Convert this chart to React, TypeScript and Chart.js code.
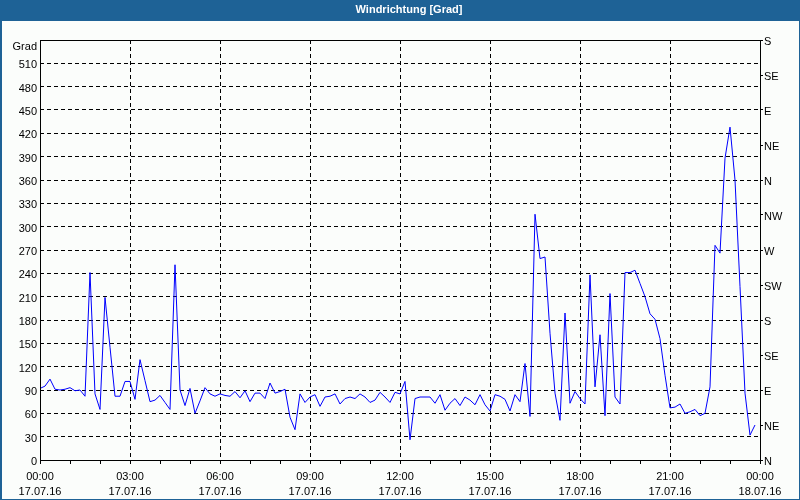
import React, { useEffect, useRef } from "react";
import { Chart, registerables } from "chart.js";

Chart.register(...registerables);

const TITLE = "Windrichtung [Grad]";
const Y_UNIT = "Grad";
const SAMPLE_MINUTES = 10;

// wind direction in degrees, one value every 10 minutes from 17.07.16 00:00
const windDirection = [
  92, 95, 104, 91, 90, 91, 93, 89, 90, 82,
  241, 85, 65, 209, 145, 82, 82, 101, 101, 78,
  129, 102, 75, 77, 83, 74, 65, 251, 90, 70,
  92, 60, 76, 93, 85, 82, 85, 83, 82, 88,
  80, 89, 75, 86, 86, 79, 99, 86, 88, 91,
  55, 39, 85, 74, 81, 84, 69, 81, 82, 85,
  72, 79, 81, 79, 85, 81, 74, 77, 87, 81,
  74, 87, 85, 101, 26, 79, 81, 81, 81, 73,
  84, 64, 73, 79, 70, 81, 77, 71, 84, 71,
  63, 84, 82, 78, 63, 84, 75, 124, 56, 316,
  259, 261, 163, 86, 51, 189, 73, 88, 79, 72,
  238, 94, 161, 57, 214, 81, 72, 241, 241, 244,
  227, 210, 188, 181, 156, 109, 67, 68, 72, 60,
  62, 65, 57, 60, 94, 276, 266, 388, 428, 360,
  223, 86, 32, 45,
];

const hourLabels = ["00:00", "03:00", "06:00", "09:00", "12:00", "15:00", "18:00", "21:00", "00:00"];
const dateLabels = ["17.07.16", "17.07.16", "17.07.16", "17.07.16", "17.07.16", "17.07.16", "17.07.16", "17.07.16", "18.07.16"];
const compassLabels = ["N", "NE", "E", "SE", "S", "SW", "W", "NW", "N", "NE", "E", "SE", "S"];

const FONT = "'Liberation Sans', Arial, sans-serif";

const framePlugin = {
  id: "frame",
  beforeDraw(chart: any) {
    const { ctx, width, height } = chart;
    ctx.save();
    ctx.fillStyle = "#fbfdfb";
    ctx.fillRect(0, 0, width, height);
    ctx.fillStyle = "#1e6296";
    ctx.fillRect(0, 0, width, 21);
    ctx.fillRect(0, 0, 2, height);
    ctx.fillRect(width - 1, 0, 1, height);
    ctx.fillRect(0, height - 1, width, 1);
    ctx.restore();
  },
  afterDraw(chart: any) {
    const { ctx, chartArea: a } = chart;
    ctx.save();
    ctx.strokeStyle = "#000";
    ctx.lineWidth = 1;
    ctx.setLineDash([]);
    ctx.strokeRect(
      Math.round(a.left) + 0.5,
      Math.round(a.top) + 0.5,
      Math.round(a.right - a.left),
      Math.round(a.bottom - a.top)
    );
    ctx.restore();
  },
};

export default function App() {
  const ref = useRef<HTMLCanvasElement | null>(null);

  useEffect(() => {
    if (!ref.current) return;
    Chart.defaults.font.family = FONT;
    Chart.defaults.font.size = 11;
    Chart.defaults.color = "#000";

    const points = windDirection.map((v, i) => ({ x: i * SAMPLE_MINUTES, y: v }));

    const chart = new Chart(ref.current, {
      type: "line",
      data: {
        datasets: [
          {
            label: TITLE,
            data: points,
            borderColor: "#0000ff",
            borderWidth: 1,
            pointRadius: 0,
            tension: 0,
            fill: false,
          },
        ],
      },
      options: {
        animation: false,
        responsive: false,
        maintainAspectRatio: false,
        layout: { padding: { left: 0, right: -18, top: 0, bottom: 0 } },
        plugins: {
          legend: { display: false },
          tooltip: { enabled: false },
          title: {
            display: true,
            text: TITLE,
            color: "#ffffff",
            font: { family: FONT, size: 11, weight: "bold", lineHeight: 1.2 },
            padding: { top: 3.5, bottom: 23.3 },
          },
        },
        scales: {
          x: {
            type: "linear",
            min: 0,
            max: 1440,
            afterFit: (s: any) => {
              s.height = 40;
            },
            ticks: {
              stepSize: 60,
              autoSkip: false,
              maxRotation: 0,
              minRotation: 0,
              padding: 5,
              color: "#000",
              font: { family: FONT, size: 11, lineHeight: "15px" },
              callback: (v: any) => {
                const n = Number(v);
                if (n % 180 === 0) {
                  const k = n / 180;
                  return [hourLabels[k], dateLabels[k]];
                }
                return "";
              },
            },
            grid: {
              color: (c: any) => (c.tick && c.tick.value % 180 === 0 ? "#000" : "rgba(0,0,0,0)"),
              tickColor: "#000",
              tickLength: 4,
              lineWidth: 1,
            },
            border: { display: false, dash: [4, 3] },
          },
          y: {
            type: "linear",
            position: "left",
            min: 0,
            max: 540,
            afterFit: (s: any) => {
              s.width = 40;
            },
            ticks: {
              stepSize: 30,
              autoSkip: false,
              padding: 3,
              labelOffset: 2,
              color: "#000",
              font: (c: any) =>
                c.tick && c.tick.value === 540
                  ? { family: FONT, size: 11, lineHeight: "9px" }
                  : { family: FONT, size: 11 },
              callback: (v: any) => (Number(v) === 540 ? ["", Y_UNIT] : String(v)),
            },
            grid: { color: "#000", drawTicks: false, lineWidth: 1 },
            border: { display: false, dash: [4, 3] },
          },
          y2: {
            type: "linear",
            position: "right",
            min: 0,
            max: 540,
            afterFit: (s: any) => {
              s.width = 58;
            },
            ticks: {
              stepSize: 45,
              autoSkip: false,
              padding: 1,
              labelOffset: 2,
              color: "#000",
              font: { family: FONT, size: 11 },
              callback: (v: any) => compassLabels[Math.round(Number(v) / 45)],
            },
            grid: { drawOnChartArea: false, color: "#000", tickColor: "#000", tickLength: 3 },
            border: { display: false },
          },
        },
      },
      plugins: [framePlugin],
    });

    return () => chart.destroy();
  }, []);

  return (
    <div style={{ position: "absolute", left: 0, top: 0, width: 800, height: 500 }}>
      <canvas ref={ref} width={800} height={500} style={{ display: "block", width: 800, height: 500 }} />
    </div>
  );
}
